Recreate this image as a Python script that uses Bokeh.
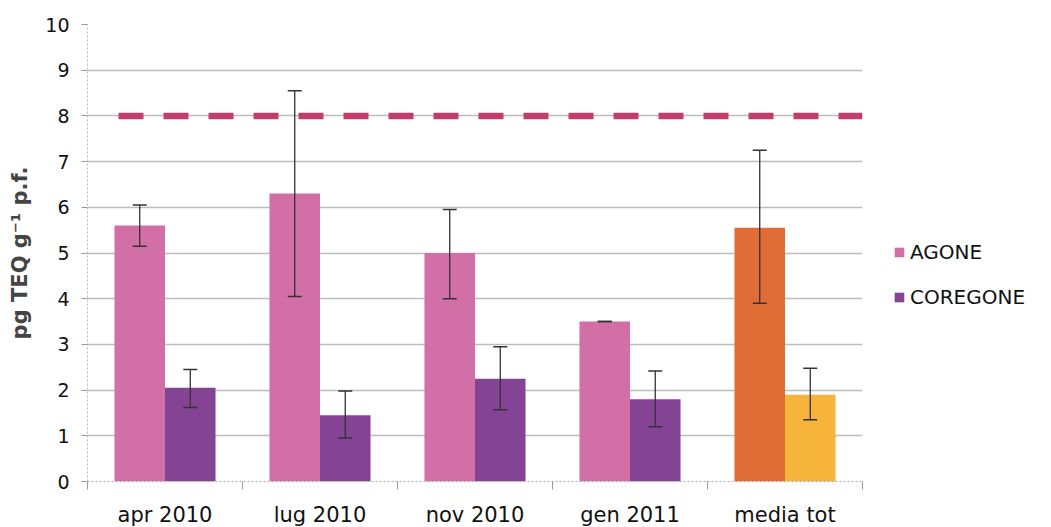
from bokeh.plotting import figure
from bokeh.layouts import row
from bokeh.models import (ColumnDataSource, Whisker, TeeHead, FixedTicker, LinearAxis,
                          Legend, LegendItem, Range1d)
from bokeh.embed import file_html
from bokeh.resources import INLINE

categories = ["apr 2010", "lug 2010", "nov 2010", "gen 2011", "media tot"]
agone = [5.6, 6.3, 5.0, 3.5, 5.55]
agone_lo = [5.15, 4.05, 4.0, 3.5, 3.9]
agone_hi = [6.05, 8.55, 5.95, 3.5, 7.25]
coregone = [2.05, 1.45, 2.25, 1.8, 1.9]
coregone_lo = [1.62, 0.95, 1.57, 1.2, 1.35]
coregone_hi = [2.45, 1.98, 2.95, 2.42, 2.48]
agone_colors = ["#D26FA7", "#D26FA7", "#D26FA7", "#D26FA7", "#E06D36"]
coregone_colors = ["#854396", "#854396", "#854396", "#854396", "#F7B43A"]
series_names = ["AGONE", "COREGONE"]
threshold = 8

n = len(categories)
centers = [i + 0.5 for i in range(n)]
off = 0.163
bw = 0.326

src_a = ColumnDataSource(dict(x=[c - off for c in centers], top=agone, lo=agone_lo, hi=agone_hi, color=agone_colors))
src_c = ColumnDataSource(dict(x=[c + off for c in centers], top=coregone, lo=coregone_lo, hi=coregone_hi, color=coregone_colors))

p = figure(frame_width=775, frame_height=457, output_backend="svg", toolbar_location=None,
           x_range=Range1d(0, n), y_range=Range1d(0, 10),
           min_border_left=87, min_border_right=10, min_border_top=24, min_border_bottom=0,
           x_axis_location=None)
p.outline_line_color = None
p.background_fill_color = "white"
p.border_fill_color = "white"

p.xgrid.grid_line_color = None
p.ygrid.grid_line_color = "#BDBDBD"
p.ygrid.grid_line_width = 1.5
p.ygrid.ticker = FixedTicker(ticks=list(range(0, 11)))

# y axis
ya = p.yaxis[0]
ya.ticker = FixedTicker(ticks=list(range(0, 11)))
ya.axis_label = "pg TEQ g⁻¹ p.f."
ya.axis_label_text_font = "DejaVu Sans"
ya.axis_label_text_font_style = "bold"
ya.axis_label_text_font_size = "21px"
ya.axis_label_standoff = 10
ya.major_label_text_font = "DejaVu Sans"
ya.major_label_text_font_size = "19px"
ya.major_label_text_color = "#111111"
ya.axis_line_color = "#BBBBBB"
ya.axis_line_dash = "2 2"
ya.major_tick_line_color = "#999999"
ya.major_tick_out = 6
ya.major_tick_in = 0
ya.minor_tick_line_color = None
ya.major_label_standoff = 12

# x axis: boundary ticks
xb = LinearAxis(ticker=FixedTicker(ticks=list(range(0, n + 1))),
                major_label_overrides={i: "" for i in range(n + 1)})
xb.major_label_text_font_size = "1px"
xb.axis_line_color = "#AAAAAA"
xb.axis_line_dash = "2 2"
xb.major_tick_line_color = "#999999"
xb.major_tick_out = 8
xb.major_tick_in = 0
xb.minor_tick_line_color = None
xb.major_label_standoff = 0
p.add_layout(xb, "below")

# x axis: category labels
xl = LinearAxis(ticker=FixedTicker(ticks=centers),
                major_label_overrides={c: lab for c, lab in zip(centers, categories)})
xl.axis_line_color = None
xl.major_tick_line_color = None
xl.minor_tick_line_color = None
xl.major_label_text_font = "DejaVu Sans"
xl.major_label_text_font_size = "21px"
xl.major_label_text_color = "#111111"
xl.major_label_standoff = 7
p.add_layout(xl, "below")

ra = p.vbar(x="x", top="top", width=bw, source=src_a, fill_color="color", line_color=None)
rc = p.vbar(x="x", top="top", width=bw, source=src_c, fill_color="color", line_color=None)

for s in (src_a, src_c):
    w = Whisker(base="x", lower="lo", upper="hi", source=s, line_color="#333333", line_width=1.3,
                level="overlay",
                upper_head=TeeHead(size=14, line_color="#333333", line_width=1.5),
                lower_head=TeeHead(size=14, line_color="#333333", line_width=1.5))
    p.add_layout(w)

p.line(x=[0.2, n], y=[threshold, threshold], line_color="#C23D6D", line_width=6.5, line_dash="25 20")

# legend panel (separate small figure; its swatches sit outside the visible range)
lg = figure(width=171, height=510, output_backend="svg", toolbar_location=None,
            x_range=Range1d(0, 1), y_range=Range1d(0, 1),
            min_border=0, x_axis_location=None, y_axis_location=None)
lg.outline_line_color = None
lg.grid.visible = False
la = lg.rect(x=[-10], y=[-10], width=1, height=1, fill_color=agone_colors[0], line_color=None)
lc = lg.rect(x=[-10], y=[-10], width=1, height=1, fill_color=coregone_colors[0], line_color=None)

legend = Legend(items=[LegendItem(label=series_names[0], renderers=[la]),
                       LegendItem(label=series_names[1], renderers=[lc])],
                location=(21, 153), orientation="vertical")
legend.glyph_width = 12
legend.glyph_height = 12
legend.label_text_font = "DejaVu Sans"
legend.label_text_font_size = "20px"
legend.label_text_color = "#111111"
legend.spacing = 21
legend.padding = 0
legend.margin = 0
legend.border_line_color = None
legend.background_fill_alpha = 0
legend.label_standoff = 5
lg.add_layout(legend, "center")

layout = row(p, lg)
open("out.html", "w").write(file_html(layout, INLINE))
